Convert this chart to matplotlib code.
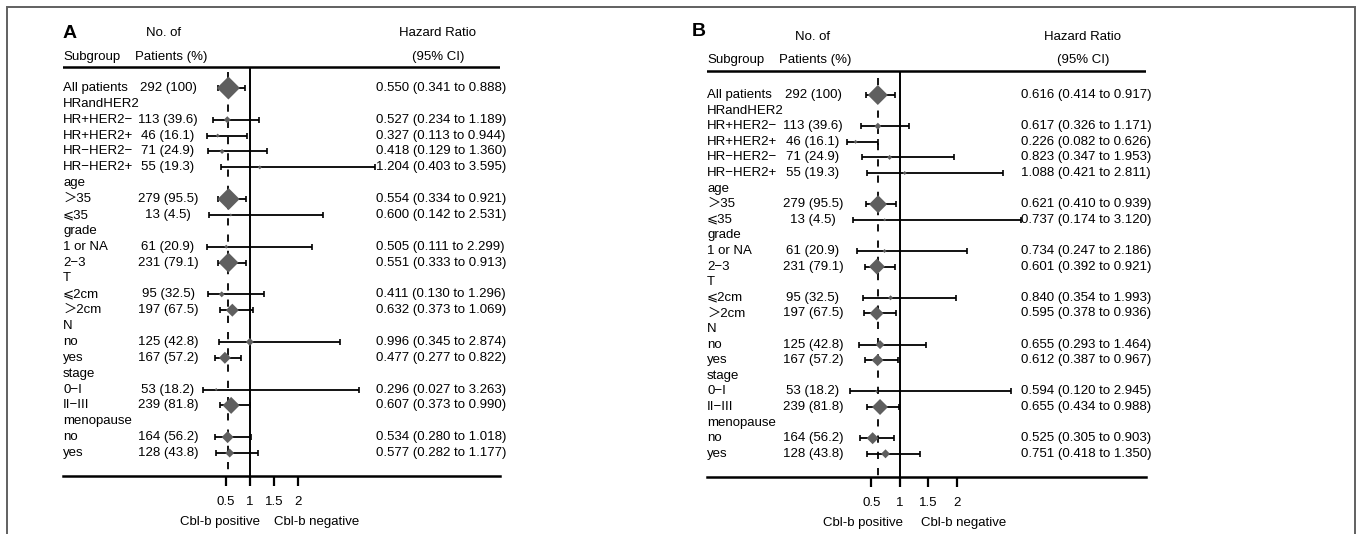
import matplotlib.pyplot as plt
import numpy as np
from matplotlib.patches import Rectangle
from matplotlib.transforms import blended_transform_factory

plt.rcParams['font.family'] = ['Liberation Sans', 'DejaVu Sans', 'Noto Sans CJK SC']

W, H = 1357, 534

subgroups = ['All patients', 'HRandHER2', 'HR+HER2\u2212', 'HR+HER2+', 'HR\u2212HER2\u2212',
             'HR\u2212HER2+', 'age', '\uff1e35', '\u2a7d35', 'grade', '1 or NA', '2\u22123',
             'T', '\u2a7d2cm', '\uff1e2cm', 'N', 'no', 'yes', 'stage', '0\u2212I',
             'II\u2212III', 'menopause', 'no', 'yes']
patients = ['292 (100)', '', '113 (39.6)', '46 (16.1)', '71 (24.9)', '55 (19.3)', '',
            '279 (95.5)', '13 (4.5)', '', '61 (20.9)', '231 (79.1)', '', '95 (32.5)',
            '197 (67.5)', '', '125 (42.8)', '167 (57.2)', '', '53 (18.2)', '239 (81.8)',
            '', '164 (56.2)', '128 (43.8)']
nan = np.nan

# panel A
hr_a = [0.550, nan, 0.527, 0.327, 0.418, 1.204, nan, 0.554, 0.600, nan, 0.505, 0.551,
        nan, 0.411, 0.632, nan, 0.996, 0.477, nan, 0.296, 0.607, nan, 0.534, 0.577]
lo_a = [0.341, nan, 0.234, 0.113, 0.129, 0.403, nan, 0.334, 0.142, nan, 0.111, 0.333,
        nan, 0.130, 0.373, nan, 0.345, 0.277, nan, 0.027, 0.373, nan, 0.280, 0.282]
hi_a = [0.888, nan, 1.189, 0.944, 1.360, 3.595, nan, 0.921, 2.531, nan, 2.299, 0.913,
        nan, 1.296, 1.069, nan, 2.874, 0.822, nan, 3.263, 0.990, nan, 1.018, 1.177]
box_a = [23, nan, 7, 4, 5, 4, nan, 22, 3, nan, 4, 20, nan, 6, 13, nan, 8, 12, nan, 3,
         17, nan, 12, 9]

# panel B
hr_b = [0.616, nan, 0.617, 0.226, 0.823, 1.088, nan, 0.621, 0.737, nan, 0.734, 0.601,
        nan, 0.840, 0.595, nan, 0.655, 0.612, nan, 0.594, 0.655, nan, 0.525, 0.751]
lo_b = [0.414, nan, 0.326, 0.082, 0.347, 0.421, nan, 0.410, 0.174, nan, 0.247, 0.392,
        nan, 0.354, 0.378, nan, 0.293, 0.387, nan, 0.120, 0.434, nan, 0.305, 0.418]
hi_b = [0.917, nan, 1.171, 0.626, 1.953, 2.811, nan, 0.939, 3.120, nan, 2.186, 0.921,
        nan, 1.993, 0.936, nan, 1.464, 0.967, nan, 2.945, 0.988, nan, 0.903, 1.350]
box_b = [20, nan, 7, 4, 5, 4, nan, 18, 3, nan, 4, 16, nan, 5, 14, nan, 9, 12, nan, 3,
         16, nan, 12, 9]

ticks = [0.5, 1, 1.5, 2]
tick_labels = ['0.5', '1', '1.5', '2']

# layout in pixels
layout_a = dict(letter='A', left=63, right=500, zero=202, unit=48, row0=88, step=15.87,
                rule_top=67, rule_bot=476, dash_top=72, num_x=168, ci_x=376, hr_x=438,
                noof_x=164, pat_x=135, head1=33, head2=57, let_xy=(63, 34),
                pos_x=220, neg_x=317, lab_y=522)
layout_b = dict(letter='B', left=707, right=1146, zero=842.7, unit=57, row0=95, step=15.6,
                rule_top=71, rule_bot=477, dash_top=78, num_x=813, ci_x=1021, hr_x=1083,
                noof_x=813, pat_x=779, head1=37, head2=60, let_xy=(692, 31),
                pos_x=863, neg_x=964, lab_y=523)

fig = plt.figure(figsize=(W / 100, H / 100), dpi=100)
FS = 9.5
grey = '#5f5f5f'


def fx(px):
    return px / W


def fy(py):
    return 1 - py / H


def forest(L, hr, lo, hi, box):
    ax = fig.add_axes([fx(L['left']), 0, (L['right'] - L['left']) / W, 1])
    row = lambda py: (py - L['row0']) / L['step']
    ax.set_xlim((L['left'] - L['zero']) / L['unit'], (L['right'] - L['zero']) / L['unit'])
    ax.set_ylim(row(H), row(0))
    ax.patch.set_visible(False)
    for s in ['left', 'right', 'top']:
        ax.spines[s].set_visible(False)
    ax.spines['bottom'].set_position(('data', row(L['rule_bot'])))
    ax.spines['bottom'].set_linewidth(1.8)
    ax.set_yticks([])
    ax.set_xticks(ticks)
    ax.set_xticklabels(tick_labels)
    ax.tick_params(axis='x', direction='out', length=7.5, width=1.6, pad=7, labelsize=FS)

    hr = np.array(hr)
    lo = np.array(lo)
    hi = np.array(hi)
    box = np.array(box)
    y = np.arange(len(hr))
    ok = ~np.isnan(hr)

    ax.axhline(row(L['rule_top']), color='black', lw=1.8)
    ax.vlines(1, row(L['rule_top']), row(L['rule_bot']), color='black', lw=1.4, zorder=2)
    ax.vlines(hr[0], row(L['dash_top']), row(L['rule_bot']), color='black', lw=1.3,
              linestyles=(0, (4, 5)), zorder=2)
    ax.errorbar(hr[ok], y[ok], xerr=[hr[ok] - lo[ok], hi[ok] - hr[ok]], fmt='none',
                ecolor='black', elinewidth=1.3, capsize=2.2, capthick=1.2, zorder=3)
    ax.scatter(hr[ok], y[ok], s=(box[ok] * 0.72 / 1.414) ** 2, marker='D', color=grey,
               edgecolors='none', zorder=4)

    tr = blended_transform_factory(fig.transFigure, ax.transData)
    for i in range(len(subgroups)):
        ax.text(fx(L['left']), i, subgroups[i], transform=tr, va='center', ha='left',
                fontsize=FS)
        if patients[i]:
            ax.text(fx(L['num_x']), i, patients[i], transform=tr, va='center',
                    ha='center', fontsize=FS)
        if ok[i]:
            ax.text(fx(L['ci_x']), i, f'{hr[i]:.3f} ({lo[i]:.3f} to {hi[i]:.3f})',
                    transform=tr, va='center', ha='left', fontsize=FS)

    fig.text(fx(L['let_xy'][0]), fy(L['let_xy'][1]), L['letter'], fontsize=14,
             fontweight='bold', va='center', ha='left')
    fig.text(fx(L['noof_x']), fy(L['head1']), 'No. of', fontsize=FS, va='center',
             ha='center')
    fig.text(fx(L['left']), fy(L['head2']), 'Subgroup', fontsize=FS, va='center')
    fig.text(fx(L['pat_x']), fy(L['head2']), 'Patients (%)', fontsize=FS, va='center')
    fig.text(fx(L['hr_x']), fy(L['head1']), 'Hazard Ratio', fontsize=FS, va='center',
             ha='center')
    fig.text(fx(L['hr_x']), fy(L['head2']), '(95% CI)', fontsize=FS, va='center',
             ha='center')
    fig.text(fx(L['pos_x']), fy(L['lab_y']), 'Cbl-b positive', fontsize=FS,
             va='center', ha='center')
    fig.text(fx(L['neg_x']), fy(L['lab_y']), 'Cbl-b negative', fontsize=FS,
             va='center', ha='center')
    return ax


forest(layout_a, hr_a, lo_a, hi_a, box_a)
forest(layout_b, hr_b, lo_b, hi_b, box_b)

fig.add_artist(Rectangle((fx(7), -0.1), fx(1348), 1 - 7 / H + 0.1,
                         transform=fig.transFigure, fill=False, ec='#606060', lw=1.4))

fig.savefig('out.png', dpi=100)
